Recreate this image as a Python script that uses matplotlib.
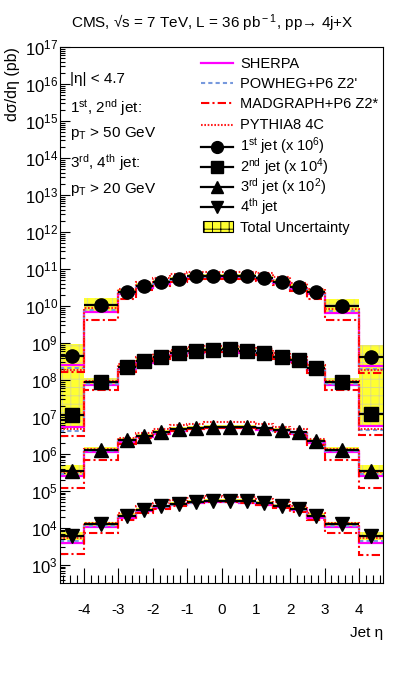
import numpy as np
import matplotlib
matplotlib.use("Agg")
import matplotlib.pyplot as plt
from matplotlib.lines import Line2D
from matplotlib.patches import Rectangle
from matplotlib.ticker import LogLocator, MultipleLocator

plt.rcParams['font.family'] = ['Liberation Sans', 'DejaVu Sans']
plt.rcParams['mathtext.fontset'] = 'custom'
plt.rcParams['mathtext.rm'] = 'Liberation Sans'
plt.rcParams['mathtext.it'] = 'Liberation Sans:italic'
plt.rcParams['mathtext.bf'] = 'Liberation Sans:bold'
plt.rcParams['axes.unicode_minus'] = False
plt.rcParams['hatch.linewidth'] = 0.6

# ---- data (log10 of plotted dsigma/deta, already scaled) ----
bin_edges = [-4.7, -4.0, -3.0, -2.5, -2.0, -1.5, -1.0, -0.5, 0.0, 0.5, 1.0, 1.5, 2.0, 2.5, 3.0, 4.0, 4.7]

jet_labels = [r'1$^{\rm st}$ jet (x 10$^{6}$)', r'2$^{\rm nd}$ jet (x 10$^{4}$)',
              r'3$^{\rm rd}$ jet (x 10$^{2}$)', r'4$^{\rm th}$ jet']
jet_markers = ['o', 's', '^', 'v']

data_j1 = [8.66, 10.03, 10.37, 10.54, 10.64, 10.73, 10.81, 10.80, 10.80, 10.80, 10.76, 10.66, 10.51, 10.37, 10.00, 8.63]
data_j2 = [7.04, 7.95, 8.34, 8.52, 8.63, 8.72, 8.78, 8.81, 8.83, 8.79, 8.73, 8.63, 8.54, 8.32, 7.95, 7.07]
data_j3 = [5.55, 6.11, 6.38, 6.49, 6.59, 6.67, 6.71, 6.74, 6.74, 6.74, 6.69, 6.65, 6.58, 6.35, 6.11, 5.55]
data_j4 = [3.77, 4.10, 4.33, 4.49, 4.58, 4.65, 4.70, 4.74, 4.73, 4.72, 4.67, 4.60, 4.51, 4.33, 4.10, 3.77]

# total uncertainty (log10 up / down)
unc_up_j1 = [0.32, 0.18, 0.08, 0.07, 0.06, 0.06, 0.05, 0.05, 0.05, 0.05, 0.06, 0.06, 0.07, 0.08, 0.18, 0.32]
unc_dn_j1 = [0.85, 0.18, 0.08, 0.07, 0.06, 0.06, 0.05, 0.05, 0.05, 0.05, 0.06, 0.06, 0.07, 0.08, 0.18, 0.85]
unc_up_j2 = [0.80, 0.11, 0.07, 0.06, 0.05, 0.05, 0.05, 0.05, 0.05, 0.05, 0.05, 0.05, 0.06, 0.07, 0.11, 0.80]
unc_dn_j2 = [0.34, 0.11, 0.07, 0.06, 0.05, 0.05, 0.05, 0.05, 0.05, 0.05, 0.05, 0.05, 0.06, 0.07, 0.11, 0.34]
unc_up_j3 = [0.15, 0.08, 0.06, 0.05, 0.05, 0.05, 0.05, 0.05, 0.05, 0.05, 0.05, 0.05, 0.05, 0.06, 0.08, 0.15]
unc_dn_j3 = [0.12, 0.08, 0.06, 0.05, 0.05, 0.05, 0.05, 0.05, 0.05, 0.05, 0.05, 0.05, 0.05, 0.06, 0.08, 0.12]
unc_up_j4 = [0.11, 0.07, 0.06, 0.05, 0.05, 0.05, 0.05, 0.05, 0.05, 0.05, 0.05, 0.05, 0.05, 0.06, 0.07, 0.11]
unc_dn_j4 = [0.10, 0.07, 0.06, 0.05, 0.05, 0.05, 0.05, 0.05, 0.05, 0.05, 0.05, 0.05, 0.05, 0.06, 0.07, 0.10]

# MC predictions (log10)
sherpa_j1 = [8.41, 9.84, 10.31, 10.49, 10.59, 10.68, 10.76, 10.75, 10.75, 10.75, 10.71, 10.61, 10.46, 10.31, 9.82, 8.38]
sherpa_j2 = [6.74, 7.86, 8.29, 8.47, 8.58, 8.67, 8.73, 8.76, 8.78, 8.74, 8.68, 8.58, 8.49, 8.27, 7.86, 6.76]
sherpa_j3 = [5.41, 6.04, 6.33, 6.45, 6.55, 6.63, 6.67, 6.70, 6.70, 6.70, 6.65, 6.61, 6.54, 6.30, 6.04, 5.41]
sherpa_j4 = [3.59, 4.03, 4.28, 4.45, 4.54, 4.61, 4.66, 4.70, 4.69, 4.68, 4.63, 4.56, 4.47, 4.28, 4.03, 3.59]

powheg_j1 = [8.31, 9.88, 10.35, 10.52, 10.62, 10.71, 10.79, 10.78, 10.78, 10.78, 10.74, 10.64, 10.49, 10.35, 9.86, 8.30]
powheg_j2 = [6.62, 7.90, 8.33, 8.51, 8.62, 8.71, 8.77, 8.80, 8.82, 8.78, 8.72, 8.62, 8.53, 8.31, 7.90, 6.64]
powheg_j3 = [5.45, 6.07, 6.36, 6.47, 6.57, 6.65, 6.69, 6.72, 6.72, 6.72, 6.67, 6.63, 6.56, 6.33, 6.07, 5.45]
powheg_j4 = [3.65, 4.06, 4.31, 4.47, 4.56, 4.63, 4.68, 4.72, 4.71, 4.70, 4.65, 4.58, 4.49, 4.31, 4.06, 3.65]

madgraph_j1 = [8.22, 9.63, 10.20, 10.42, 10.55, 10.65, 10.73, 10.73, 10.73, 10.73, 10.68, 10.57, 10.40, 10.20, 9.62, 8.20]
madgraph_j2 = [6.48, 7.72, 8.22, 8.43, 8.56, 8.66, 8.73, 8.76, 8.78, 8.74, 8.67, 8.56, 8.45, 8.20, 7.72, 6.50]
madgraph_j3 = [5.09, 5.84, 6.26, 6.42, 6.54, 6.63, 6.68, 6.71, 6.71, 6.71, 6.66, 6.60, 6.51, 6.24, 5.84, 5.07]
madgraph_j4 = [3.29, 3.86, 4.20, 4.40, 4.52, 4.60, 4.66, 4.70, 4.69, 4.68, 4.62, 4.54, 4.42, 4.20, 3.86, 3.27]

pythia_j1 = [8.28, 9.95, 10.47, 10.65, 10.76, 10.85, 10.93, 10.93, 10.93, 10.93, 10.88, 10.78, 10.63, 10.47, 9.93, 8.26]
pythia_j2 = [6.66, 7.98, 8.42, 8.61, 8.73, 8.82, 8.88, 8.91, 8.93, 8.89, 8.83, 8.73, 8.63, 8.40, 7.98, 6.68]
pythia_j3 = [5.50, 6.13, 6.44, 6.57, 6.68, 6.77, 6.82, 6.85, 6.85, 6.85, 6.80, 6.74, 6.66, 6.41, 6.13, 5.50]
pythia_j4 = [3.72, 4.12, 4.40, 4.58, 4.68, 4.76, 4.81, 4.85, 4.84, 4.83, 4.78, 4.70, 4.60, 4.40, 4.12, 3.72]

mc_names = ['SHERPA', 'POWHEG+P6 Z2\'', 'MADGRAPH+P6 Z2*', 'PYTHIA8 4C']

# ---- figure ----
W, H = 399, 677
fig = plt.figure(figsize=(W / 100, H / 100), dpi=100)
ax = fig.add_axes([60 / W, 1 - 583 / H, (383 - 60) / W, (583 - 47) / H])

edges = np.array(bin_edges)
centers = 0.5 * (edges[1:] + edges[:-1])
halfw = 0.5 * (edges[1:] - edges[:-1])

datas = [data_j1, data_j2, data_j3, data_j4]
ups = [unc_up_j1, unc_up_j2, unc_up_j3, unc_up_j4]
dns = [unc_dn_j1, unc_dn_j2, unc_dn_j3, unc_dn_j4]
mcs = [[sherpa_j1, sherpa_j2, sherpa_j3, sherpa_j4],
       [powheg_j1, powheg_j2, powheg_j3, powheg_j4],
       [madgraph_j1, madgraph_j2, madgraph_j3, madgraph_j4],
       [pythia_j1, pythia_j2, pythia_j3, pythia_j4]]
mc_styles = [dict(color='#ff00ff', ls='-', lw=1.6),
             dict(color='#7799dd', ls=(0, (2.0, 1.5)), lw=1.5),
             dict(color='#ff0000', ls=(0, (4, 1.5, 1, 1.5)), lw=1.5),
             dict(color='#ff2020', ls=(0, (0.8, 0.8)), lw=1.5)]

band_kw = dict(facecolor='#ffff30', edgecolor='#d8d890', hatch='++', linewidth=0)

# uncertainty bands
for d, u, dn in zip(datas, ups, dns):
    d = np.array(d); u = np.array(u); dn = np.array(dn)
    lo = 10 ** (d - dn)
    hi = 10 ** (d + u)
    ax.bar(centers, hi - lo, bottom=lo, width=2 * halfw, zorder=1, **band_kw)

# MC lines
for mcj, st in zip(mcs, mc_styles):
    for vals in mcj:
        ax.stairs(10 ** np.array(vals), edges, baseline=None, zorder=2, **st)

# data
for d, m in zip(datas, jet_markers):
    ax.errorbar(centers, 10 ** np.array(d), xerr=halfw, fmt=m, color='black',
                ms=9.5, elinewidth=1.6, capsize=0, zorder=3)

ax.set_yscale('log')
ax.set_xlim(-4.7, 4.7)
ax.set_ylim(10 ** 2.51, 1e17)

ax.xaxis.set_major_locator(MultipleLocator(1))
ax.xaxis.set_minor_locator(MultipleLocator(0.2))
ax.yaxis.set_major_locator(LogLocator(base=10, numticks=30))
ax.yaxis.set_minor_locator(LogLocator(base=10, subs=np.arange(2, 10), numticks=30))

ax.tick_params(axis='x', which='major', direction='in', length=11, width=0.8,
               labelsize=11, pad=14.5, top=False)
ax.tick_params(axis='x', which='minor', direction='in', length=5.5, width=0.8, top=False)
ax.tick_params(axis='y', which='major', direction='in', length=7, width=0.8,
               labelsize=12, pad=1.5, right=False)
ax.tick_params(axis='y', which='minor', direction='in', length=3.5, width=0.8, right=False)
for sp in ax.spines.values():
    sp.set_linewidth(0.8)

# labels
fig.text(13 / W, 1 - 47 / H, 'dσ/dη (pb)', rotation=90, ha='center', va='top', fontsize=11.5)
fig.text(383 / W, 1 - 633 / H, 'Jet η', ha='right', va='center', fontsize=11)
fig.text(212 / W, 1 - 23.5 / H,
         r'CMS, √s = 7 TeV, L = 36 pb$^{\rm -1}$, pp→ 4j+X',
         ha='center', va='center', fontsize=11)

# left annotations
tx = 70 / W
fig.text(tx, 1 - 79 / H, r'|η| < 4.7', ha='left', va='center', fontsize=11)
fig.text(tx, 1 - 108 / H, r'1$^{\rm st}$, 2$^{\rm nd}$ jet:', ha='left', va='center', fontsize=11)
fig.text(tx, 1 - 134 / H, r'p$_{\rm T}$ > 50 GeV', ha='left', va='center', fontsize=11)
fig.text(tx, 1 - 163 / H, r'3$^{\rm rd}$, 4$^{\rm th}$ jet:', ha='left', va='center', fontsize=11)
fig.text(tx, 1 - 189 / H, r'p$_{\rm T}$ > 20 GeV', ha='left', va='center', fontsize=11)

# legend (drawn manually for ROOT-like compact spacing)
leg_rows_px = [63.3, 83.3, 103.3, 124.5, 146.5, 166.8, 186.8, 207.3, 226.7]
hx0, hx1, txt_x = 201 / W, 233 / W, 240 / W
labels = mc_names + jet_labels + ['Total Uncertainty']
for i, (ypx, lab) in enumerate(zip(leg_rows_px, labels)):
    yf = 1 - ypx / H
    if i < 4:
        fig.add_artist(Line2D([hx0, hx1], [yf, yf], transform=fig.transFigure, **mc_styles[i]))
    elif i < 8:
        fig.add_artist(Line2D([hx0, hx1], [yf, yf], transform=fig.transFigure,
                              color='black', lw=1.6))
        fig.add_artist(Line2D([(hx0 + hx1) / 2], [yf], transform=fig.transFigure,
                              color='black', marker=jet_markers[i - 4], ms=8.5, ls='none'))
    else:
        fig.add_artist(Rectangle((202.5 / W, 1 - 232.5 / H), 30.5 / W, 11 / H,
                                 transform=fig.transFigure, facecolor='#ffff30',
                                 edgecolor='black', hatch='++', linewidth=0.8))
    fig.text(txt_x, 1 - (ypx + 4.8) / H, lab, ha='left', va='baseline', fontsize=10.5)

fig.savefig('out.png', dpi=100)
